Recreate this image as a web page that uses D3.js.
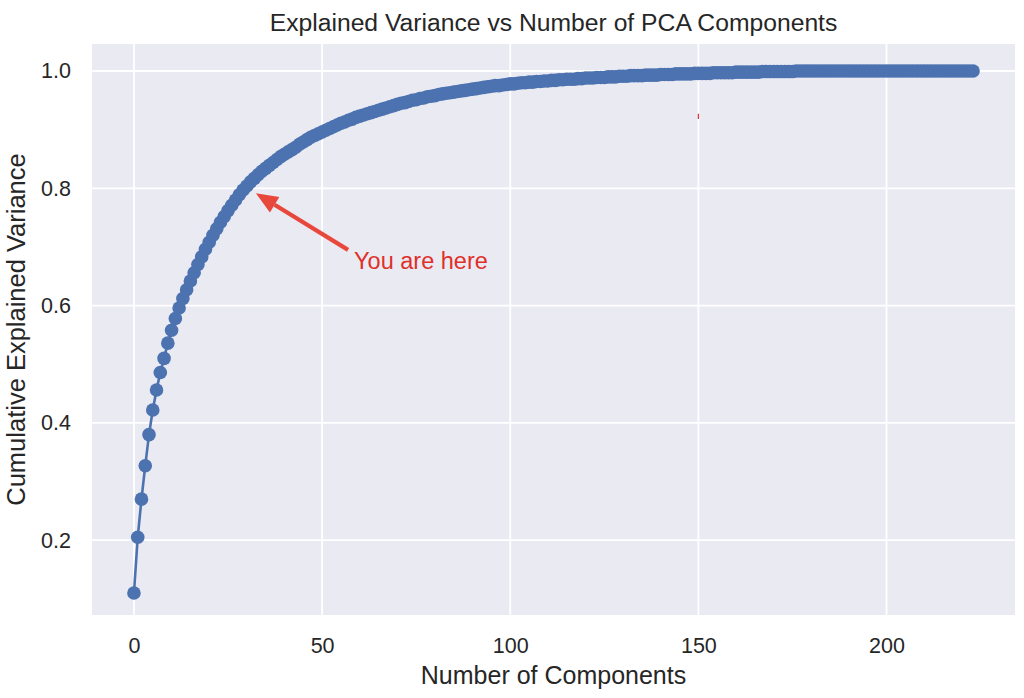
<!DOCTYPE html>
<html>
<head>
<meta charset="utf-8">
<script src="https://cdn.jsdelivr.net/npm/d3@7"></script>
<style>
  html, body { margin: 0; padding: 0; background: #fff; }
  svg text { font-family: "Liberation Sans", Arial, Helvetica, sans-serif; fill: #262626; }
</style>
</head>
<body>
<svg id="chart" width="1024" height="698"></svg>
<script>
// --- data ---
const explainedVariance = [
  0.110, 0.205, 0.270, 0.327, 0.380, 0.422, 0.456, 0.486, 0.510, 0.536,
  0.558, 0.578, 0.596, 0.612, 0.627, 0.642, 0.656, 0.670, 0.683, 0.696,
  0.708, 0.720, 0.731, 0.742, 0.752, 0.762, 0.771, 0.780, 0.789, 0.797,
  0.804, 0.811, 0.817, 0.823, 0.829, 0.834, 0.839, 0.844, 0.849, 0.854,
  0.858, 0.862, 0.866, 0.870, 0.875, 0.879, 0.883, 0.887, 0.890, 0.893,
  0.896, 0.899, 0.902, 0.905, 0.908, 0.911, 0.913, 0.916, 0.918, 0.921,
  0.923, 0.925, 0.927, 0.929, 0.931, 0.933, 0.935, 0.937, 0.939, 0.941,
  0.943, 0.945, 0.946, 0.948, 0.950, 0.951, 0.953, 0.954, 0.956, 0.957,
  0.958, 0.960, 0.961, 0.962, 0.963, 0.964, 0.965, 0.966, 0.967, 0.968,
  0.969, 0.970, 0.971, 0.972, 0.973, 0.974, 0.975, 0.975, 0.976, 0.977,
  0.978, 0.978, 0.979, 0.980, 0.980, 0.981, 0.981, 0.982, 0.982, 0.983,
  0.983, 0.984, 0.984, 0.985, 0.985, 0.986, 0.986, 0.986, 0.987, 0.987,
  0.988, 0.988, 0.988, 0.989, 0.989, 0.989, 0.990, 0.990, 0.990, 0.991,
  0.991, 0.991, 0.992, 0.992, 0.992, 0.992, 0.993, 0.993, 0.993, 0.993,
  0.994, 0.994, 0.994, 0.994, 0.995, 0.995, 0.995, 0.995, 0.995, 0.996,
  0.996, 0.996, 0.996, 0.996, 0.997, 0.997, 0.997, 0.997, 0.997, 0.997,
  0.998, 0.998, 0.998, 0.998, 0.998, 0.998, 0.998, 0.999, 0.999, 0.999,
  0.999, 0.999, 0.999, 0.999, 0.999, 0.999, 1.000, 1.000, 1.000, 1.000,
  1.000, 1.000, 1.000, 1.000, 1.000, 1.000, 1.000, 1.000, 1.000, 1.000,
  1.000, 1.000, 1.000, 1.000, 1.000, 1.000, 1.000, 1.000, 1.000, 1.000,
  1.000, 1.000, 1.000, 1.000, 1.000, 1.000, 1.000, 1.000, 1.000, 1.000,
  1.000, 1.000, 1.000, 1.000, 1.000, 1.000, 1.000, 1.000, 1.000, 1.000,
  1.000, 1.000, 1.000, 1.000
];
const xTicks = [0, 50, 100, 150, 200];
const yTicks = [0.2, 0.4, 0.6, 0.8, 1.0];

const title = "Explained Variance vs Number of PCA Components";
const xLabel = "Number of Components";
const yLabel = "Cumulative Explained Variance";
const note = "You are here";
// annotation anchor (data coords): arrow tip, arrow tail / text position
const noteTip = [32.4, 0.7915];
const noteTail = [56.9, 0.695];
const noteText = [58.5, 0.662];
const stray = [[150, 0.918], [150, 0.927]];

// --- layout ---
const svg = d3.select("#chart");
const plot = { left: 92, right: 1015, top: 44, bottom: 615 };

const x = d3.scaleLinear().domain([-11.15, 234.15]).range([plot.left, plot.right]);
const y = d3.scaleLinear().domain([0.0725, 1.046]).range([plot.bottom, plot.top]);

// background
svg.append("rect")
  .attr("x", plot.left).attr("y", plot.top)
  .attr("width", plot.right - plot.left).attr("height", plot.bottom - plot.top)
  .attr("fill", "#eaeaf2");

// grid
const grid = svg.append("g").attr("stroke", "#fff").attr("stroke-width", 1.8);
grid.selectAll(".gx").data(xTicks).join("line")
  .attr("x1", d => x(d)).attr("x2", d => x(d))
  .attr("y1", plot.top).attr("y2", plot.bottom);
grid.selectAll(".gy").data(yTicks).join("line")
  .attr("x1", plot.left).attr("x2", plot.right)
  .attr("y1", d => y(d)).attr("y2", d => y(d));

// axes (labels only, seaborn darkgrid has no spines)
const xAxis = svg.append("g")
  .attr("transform", `translate(0,${plot.bottom})`)
  .call(d3.axisBottom(x).tickValues(xTicks).tickSize(0).tickPadding(23).tickFormat(d3.format("d")));
const yAxis = svg.append("g")
  .attr("transform", `translate(${plot.left},0)`)
  .call(d3.axisLeft(y).tickValues(yTicks).tickSize(0).tickPadding(21).tickFormat(d3.format(".1f")));
[xAxis, yAxis].forEach(a => {
  a.select(".domain").remove();
  a.selectAll("text")
    .style("font-family", '"Liberation Sans", Arial, sans-serif')
    .style("font-size", "21.5px")
    .attr("fill", "#262626");
});

// line + markers
const line = d3.line().x((d, i) => x(i)).y(d => y(d));
svg.append("path")
  .datum(explainedVariance)
  .attr("d", line)
  .attr("fill", "none")
  .attr("stroke", "#4c72b0")
  .attr("stroke-width", 2.6);
svg.append("g").selectAll("circle")
  .data(explainedVariance)
  .join("circle")
  .attr("cx", (d, i) => x(i))
  .attr("cy", d => y(d))
  .attr("r", 6.8)
  .attr("fill", "#4c72b0");

// annotation arrow
const tip = [x(noteTip[0]), y(noteTip[1])];
const tail = [x(noteTail[0]), y(noteTail[1])];
const ang = Math.atan2(tip[1] - tail[1], tip[0] - tail[0]);
const headLen = 22, headW = 9;
const base = [tip[0] - headLen * Math.cos(ang), tip[1] - headLen * Math.sin(ang)];
svg.append("line")
  .attr("x1", tail[0]).attr("y1", tail[1])
  .attr("x2", base[0]).attr("y2", base[1])
  .attr("stroke", "#e8473b").attr("stroke-width", 4.2);
svg.append("path")
  .attr("d", d3.line()([
    tip,
    [base[0] + headW * Math.sin(ang), base[1] - headW * Math.cos(ang)],
    [base[0] - headW * Math.sin(ang), base[1] + headW * Math.cos(ang)]
  ]) + "Z")
  .attr("fill", "#e8473b");
svg.append("text")
  .attr("x", x(noteText[0])).attr("y", y(noteText[1]))
  .attr("fill", "#e0302a").style("fill", "#e0302a")
  .style("font-size", "23.5px")
  .text(note);

// tiny stray red mark
svg.append("line")
  .attr("x1", x(stray[0][0])).attr("x2", x(stray[1][0]))
  .attr("y1", y(stray[0][1])).attr("y2", y(stray[1][1]))
  .attr("stroke", "#e0302a").attr("stroke-width", 1.2);

// titles
const cx = (plot.left + plot.right) / 2, cy = (plot.top + plot.bottom) / 2;
svg.append("text")
  .attr("x", cx).attr("y", 31)
  .attr("text-anchor", "middle")
  .style("font-size", "24.7px")
  .text(title);
svg.append("text")
  .attr("x", cx).attr("y", 684)
  .attr("text-anchor", "middle")
  .style("font-size", "25px")
  .text(xLabel);
svg.append("text")
  .attr("transform", `translate(25,${cy}) rotate(-90)`)
  .attr("text-anchor", "middle")
  .style("font-size", "25.5px")
  .text(yLabel);
</script>
</body>
</html>
